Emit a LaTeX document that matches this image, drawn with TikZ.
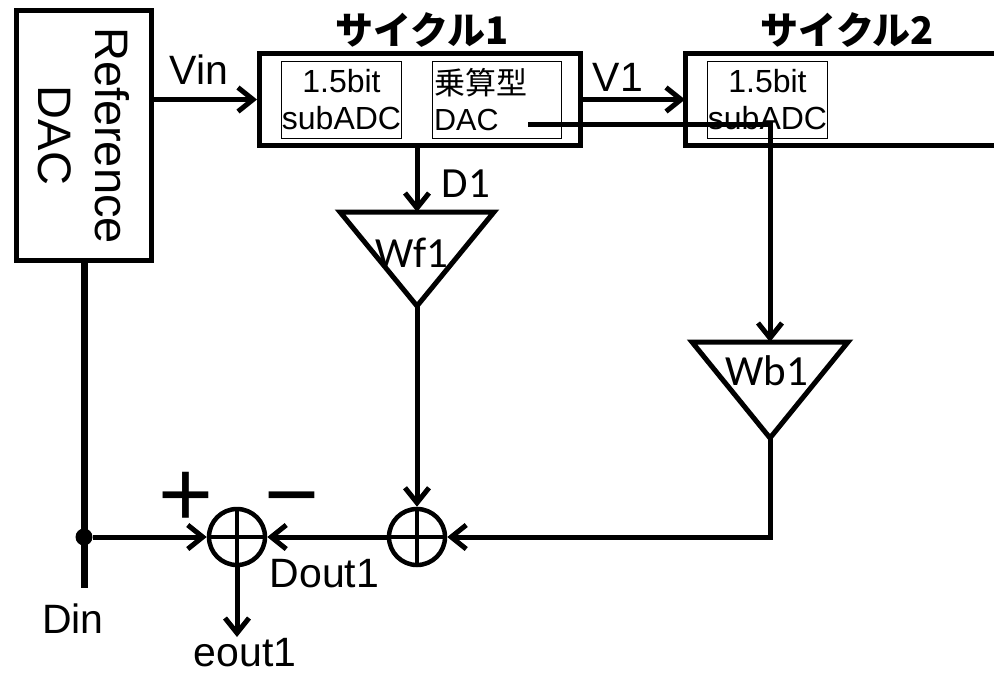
\documentclass[tikz,border=0pt]{standalone}
\usepackage{fontspec}
\setmainfont{Liberation Sans}
\newfontfamily\cjk{Noto Sans CJK JP}
\newfontfamily\calib{Carlito}
\usetikzlibrary{arrows.meta}
\begin{document}
\begin{tikzpicture}[x=1pt,y=-1pt,
  arr/.style={line width=5pt,-{Straight Barb[length=15pt,width=24pt]}},
  thickbox/.style={draw,line width=5pt,rectangle,inner sep=0pt},
  thinbox/.style={draw,line width=1.5pt,rectangle,inner sep=0pt,minimum width=120pt,minimum height=77pt,align=center,font=\fontsize{32}{37}\selectfont},
  lbl/.style={font=\fontsize{41}{48}\selectfont,inner sep=0pt,anchor=base},
  clbl/.style={font=\calib\fontsize{43}{50}\selectfont,inner sep=0pt,anchor=base},
  titlelbl/.style={font=\cjk\bfseries\fontsize{38}{45}\selectfont,inner sep=0pt,anchor=base},
  sumnode/.style={draw,circle,line width=4.5pt,minimum size=56pt,inner sep=0pt},
  tri/.style={line width=5pt,line join=miter},
  signlbl/.style={font=\fontsize{94}{100}\selectfont,inner sep=0pt,anchor=base}
]
\useasboundingbox (0,0) rectangle (994,673);

% Reference DAC
\node[thickbox,minimum width=135pt,minimum height=250pt] (dac) at (84,135.5) {};
\node[rotate=-90,align=center,font=\fontsize{47}{57}\selectfont,inner sep=0pt] (dactxt) at (84,135.5) {Reference\\DAC};

% cycle 1
\node[thickbox,minimum width=321pt,minimum height=92pt] (c1) at (420,99.5) {};
\node[thinbox] (adc1) at (341.5,100) {1.5bit\\subADC};
\node[thinbox,minimum width=129pt] (mdac) at (497,100) {};
\node[anchor=base west,font=\cjk\fontsize{31}{37}\selectfont,inner sep=0pt] (mul) at (434,94) {乗算型};
\node[anchor=base west,font=\fontsize{30.5}{37}\selectfont,inner sep=0pt] (mdactxt) at (434,130) {DAC};
\coordinate (dacout) at (528,124);
\node[titlelbl] (t1) at (422,44) {サイクル1};

% cycle 2
\node[inner sep=0pt,outer sep=0pt,minimum width=311pt,minimum height=92pt] (c2) at (840.5,99.5) {};
\draw[line width=5pt] (c2.north east) -- (c2.north west) -- (c2.south west) -- (c2.south east);
\node[thinbox] (adc2) at (767.5,100) {1.5bit\\subADC};
\node[titlelbl] (t2) at (847.5,44) {サイクル2};

% Wf1 amplifier
\coordinate (wfL) at (340,212);
\coordinate (wfR) at (494,212);
\coordinate (wfA) at (417,306);
\coordinate (wfT) at (417,212);
\draw[tri] (wfL) -- (wfR) -- (wfA) -- cycle;
\node[clbl] (wf) at (412,267) {Wf1};

% Wb1 amplifier
\coordinate (wbL) at (692,342);
\coordinate (wbR) at (848,342);
\coordinate (wbA) at (770,438);
\coordinate (wbT) at (770,342);
\draw[tri] (wbL) -- (wbR) -- (wbA) -- cycle;
\node[clbl] (wb) at (767,385) {Wb1};

% summing nodes
\node[sumnode] (s1) at (237,537) {};
\node[sumnode] (s2) at (417,537) {};
\draw[line width=4.5pt] (s1.north) -- (s1.south) (s1.west) -- (s1.east);
\draw[line width=4.5pt] (s2.north) -- (s2.south) (s2.west) -- (s2.east);
\node[signlbl] (plus) at (186,526) {+};
\node[signlbl] (minus) at (291.5,526) {−};

% Din
\coordinate (dinend) at (84,588);
\draw[line width=7pt] (dac.south) -- (dinend);
\node[circle,fill,inner sep=0pt,minimum size=17pt] (dot) at (84,537) {};
\node[lbl] (din) at (73,633) {Din};

% connectors
\draw[arr] (dac.east |- c1.west) -- (c1.west);
\node[lbl] (vin) at (199,84) {Vin};
\draw[arr] (c1.east) -- (c2.west);
\node[lbl] (v1) at (618,91) {V1};
\draw[arr] (wfT |- c1.south) -- (wfT);
\node[clbl] (d1) at (466,197) {D1};
\draw[arr] (wfA) -- (s2.north);
\draw[arr] (dacout) -| (wbT);
\draw[arr] (wbA) |- (s2.east);
\draw[arr] (s2.west) -- (s1.east);
\draw[arr] (dot) -- (s1.west);
\coordinate (eoutend) at (237,637);
\draw[arr] (s1.south) -- (eoutend);
\node[lbl] (eout) at (245,666) {eout1};
\node[lbl] (dout) at (324.5,587) {Dout1};
\end{tikzpicture}
\end{document}
